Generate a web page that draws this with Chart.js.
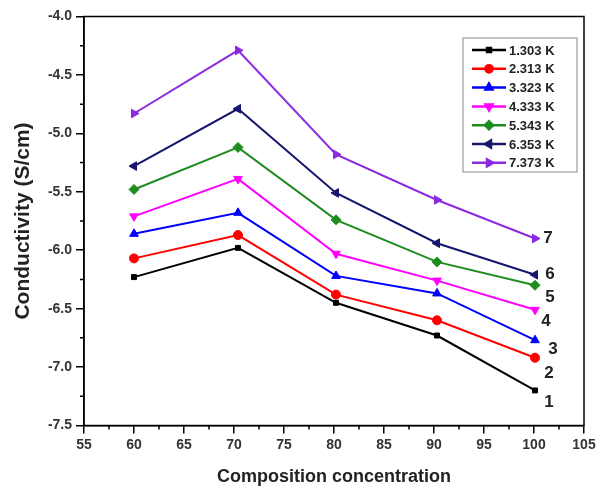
<!DOCTYPE html>
<html>
<head>
<meta charset="utf-8">
<script src="https://cdn.jsdelivr.net/npm/chart.js@4/dist/chart.umd.min.js"></script>
<style>
  html, body { margin: 0; padding: 0; background: #fff; }
  #wrap { width: 601px; height: 488px; }
</style>
</head>
<body>
<div id="wrap"><canvas id="cond"></canvas></div>
<script>
// composition concentration (x) for every series
const compX = [60, 70.4, 80.2, 90.3, 100.1];

const seriesLabels = ['1.303 K', '2.313 K', '3.323 K', '4.333 K', '5.343 K', '6.353 K', '7.373 K'];

const s1 = [-6.23, -5.98, -6.45, -6.73, -7.20];
const s2 = [-6.07, -5.87, -6.38, -6.60, -6.92];
const s3 = [-5.86, -5.68, -6.22, -6.37, -6.77];
const s4 = [-5.71, -5.39, -6.03, -6.26, -6.51];
const s5 = [-5.48, -5.12, -5.74, -6.10, -6.30];
const s6 = [-5.28, -4.79, -5.51, -5.94, -6.21];
const s7 = [-4.83, -4.29, -5.18, -5.57, -5.90];

// curve numbers written at the right end
const curveNums = ['7', '6', '5', '4', '3', '2', '1'];
const curveNumX = [101.4, 101.6, 101.6, 101.2, 101.9, 101.5, 101.5];
const curveNumY = [-5.90, -6.21, -6.40, -6.61, -6.85, -7.05, -7.30];

const xTicks = [55, 60, 65, 70, 75, 80, 85, 90, 95, 100, 105];
const yTicks = [-7.5, -7.0, -6.5, -6.0, -5.5, -5.0, -4.5, -4.0];

const colors = ['#000000', '#ff0000', '#0000ff', '#ff00ff', '#1e8c1e', '#16166e', '#8a2be2'];
const shapes = ['rect', 'circle', 'triangle', 'triangle', 'rectRot', 'triangle', 'triangle'];
const rotations = [0, 0, 0, 180, 0, -90, 90];
const radii = [3.5, 4.5, 5, 5, 5, 5, 5];

const allSeries = [s1, s2, s3, s4, s5, s6, s7];

const datasets = allSeries.map((vals, i) => ({
    label: seriesLabels[i],
    data: vals.map((v, j) => ({ x: compX[j], y: v })),
    borderColor: colors[i],
    backgroundColor: colors[i],
    borderWidth: 2,
    pointStyle: shapes[i],
    rotation: rotations[i],
    pointRadius: radii[i],
    pointBorderWidth: 1,
    tension: 0
}));

const boldFont = 'Liberation Sans';

const framePlugin = {
    id: 'frame',
    afterDraw(chart) {
        const { ctx, chartArea: a, scales } = chart;
        const xs = scales.x, ys = scales.y;
        ctx.save();
        ctx.strokeStyle = '#000';
        ctx.lineWidth = 1.5;
        ctx.strokeRect(a.left, a.top, a.right - a.left, a.bottom - a.top);

        // minor ticks
        ctx.beginPath();
        for (let v = 57.5; v < 105; v += 5) {
            const px = xs.getPixelForValue(v);
            ctx.moveTo(px, a.bottom);
            ctx.lineTo(px, a.bottom + 4);
        }
        for (let v = -7.25; v < -4; v += 0.5) {
            const py = ys.getPixelForValue(v);
            ctx.moveTo(a.left, py);
            ctx.lineTo(a.left - 4, py);
        }
        ctx.stroke();

        // curve numbers
        ctx.fillStyle = '#222';
        ctx.font = 'bold 17px ' + boldFont;
        ctx.textAlign = 'center';
        ctx.textBaseline = 'middle';
        curveNums.forEach((t, i) => {
            ctx.fillText(t, xs.getPixelForValue(curveNumX[i]), ys.getPixelForValue(curveNumY[i]));
        });

        // legend box
        const lx = 463, ly = 38, lw = 114, lh = 134;
        ctx.lineWidth = 1;
        ctx.strokeStyle = '#888';
        ctx.strokeRect(lx, ly, lw, lh);
        ctx.font = 'bold 13px ' + boldFont;
        ctx.textAlign = 'left';
        chart.data.datasets.forEach((ds, i) => {
            const y = ly + 12 + i * 18.8;
            ctx.strokeStyle = ds.borderColor;
            ctx.lineWidth = 2.5;
            ctx.beginPath();
            ctx.moveTo(lx + 9, y);
            ctx.lineTo(lx + 43, y);
            ctx.stroke();
            ctx.fillStyle = ds.backgroundColor;
            Chart.helpers.drawPoint(ctx, {
                pointStyle: ds.pointStyle,
                rotation: ds.rotation,
                radius: ds.pointRadius * 0.8,
                borderWidth: 1
            }, lx + 26, y);
            ctx.fillStyle = '#222';
            ctx.fillText(ds.label, lx + 46, y + 1);
        });
        ctx.restore();
    }
};

new Chart(document.getElementById('cond'), {
    type: 'line',
    data: { datasets },
    plugins: [framePlugin],
    options: {
        responsive: true,
        maintainAspectRatio: false,
        animation: false,
        layout: { padding: { top: 16.5, right: 17, left: 0, bottom: 0 } },
        plugins: {
            legend: { display: false },
            tooltip: { enabled: false }
        },
        scales: {
            x: {
                type: 'linear',
                min: 55,
                max: 105,
                afterBuildTicks: (s) => { s.ticks = xTicks.map(v => ({ value: v })); },
                afterFit: (s) => { s.height = 62.5; },
                ticks: {
                    color: '#333',
                    font: { family: boldFont, size: 14, weight: 'bold' },
                    padding: 3,
                    maxRotation: 0,
                    callback: (v) => String(v)
                },
                grid: { drawOnChartArea: false, color: '#000', lineWidth: 1.5, tickLength: 8 },
                border: { color: '#000', width: 1.5 },
                title: {
                    display: true,
                    text: 'Composition concentration',
                    color: '#222',
                    font: { family: boldFont, size: 18, weight: 'bold' },
                    padding: { top: 0, bottom: 0 }
                }
            },
            y: {
                min: -7.5,
                max: -4.0,
                afterBuildTicks: (s) => { s.ticks = yTicks.map(v => ({ value: v })); },
                afterFit: (s) => { s.width = 84; },
                ticks: {
                    color: '#333',
                    font: { family: boldFont, size: 14, weight: 'bold' },
                    padding: 4,
                    callback: (v) => v.toFixed(1)
                },
                grid: { drawOnChartArea: false, color: '#000', lineWidth: 1.5, tickLength: 8 },
                border: { color: '#000', width: 1.5 },
                title: {
                    display: true,
                    text: 'Conductivity (S/cm)',
                    color: '#222',
                    font: { family: boldFont, size: 21, weight: 'bold' },
                    padding: { top: 11, bottom: 0 }
                }
            }
        }
    }
});
</script>
</body>
</html>
